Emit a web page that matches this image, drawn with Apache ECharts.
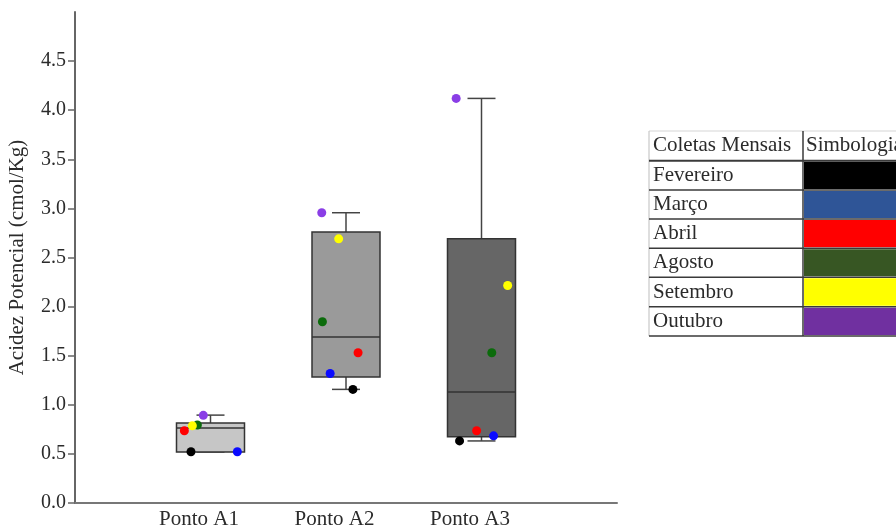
<!DOCTYPE html>
<html>
<head>
<meta charset="utf-8">
<script src="https://cdn.jsdelivr.net/npm/echarts@6/dist/echarts.min.js"></script>
<style>
	html,body{margin:0;padding:0;background:#fff;}
	#chart{width:896px;height:531px;}
</style>
</head>
<body>
<div id="chart"></div>
<script>
var categories=['Ponto A1','Ponto A2','Ponto A3'];
var yTicks=[0,0.5,1,1.5,2,2.5,3,3.5,4,4.5];
// min, Q1, mediana, Q3, max
var boxStats=[
	[0.52,0.52,0.765,0.815,0.895],
	[1.157,1.284,1.69,2.76,2.956],
	[0.632,0.674,1.13,2.69,4.12]
];
var boxColors=['#c6c6c6','#9a9a9a','#666666'];
var months=['Fevereiro','Março','Abril','Agosto','Setembro','Outubro'];
var dotColors=['#000000','#0a0aff','#ff0000','#0b6b0b','#ffff00','#8a3ee6'];
var swatchColors=['#000000','#2f5597','#ff0000','#375623','#ffff00','#7030a0'];
var fevereiro=[0.522,1.157,0.632];
var marco=[0.522,1.319,0.684];
var abril=[0.736,1.53,0.736];
var agosto=[0.794,1.846,1.53];
var setembro=[0.787,2.69,2.215];
var outubro=[0.893,2.956,4.12];
var monthValues=[fevereiro,marco,abril,agosto,setembro,outubro];
// deslocamento horizontal dos pontos dentro de cada caixa
var jitter=[
	[-0.144,0.051,-0.162],
	[0.198,-0.117,0.089],
	[-0.193,0.089,-0.036],
	[-0.097,-0.174,0.076],
	[-0.134,-0.054,0.193],
	[-0.053,-0.179,-0.187]
];

var font='"Liberation Serif", "Times New Roman", serif';
var txt='#2b2b2b';

var myChart=echarts.init(document.getElementById('chart'),null,{renderer:'canvas'});

/*box*/
var boxData=boxStats.map(function(s,i){
	return [i+1,s[0],s[1],s[2],s[3],s[4],i];
});
function renderBox(params,api){
	var x=api.value(0);
	var pMin=api.coord([x,api.value(1)]);
	var pQ1=api.coord([x,api.value(2)]);
	var pMed=api.coord([x,api.value(3)]);
	var pQ3=api.coord([x,api.value(4)]);
	var pMax=api.coord([x,api.value(5)]);
	var cx=pMed[0];
	var hw=34,cw=14;
	var wStyle={stroke:'#444',lineWidth:1.5};
	return {
		type:'group',
		children:[
			{type:'line',shape:{x1:cx,y1:pQ3[1],x2:cx,y2:pMax[1]},style:wStyle},
			{type:'line',shape:{x1:cx-cw,y1:pMax[1],x2:cx+cw,y2:pMax[1]},style:wStyle},
			{type:'line',shape:{x1:cx,y1:pQ1[1],x2:cx,y2:pMin[1]},style:wStyle},
			{type:'line',shape:{x1:cx-cw,y1:pMin[1],x2:cx+cw,y2:pMin[1]},style:wStyle},
			{type:'rect',shape:{x:cx-hw,y:pQ3[1],width:hw*2,height:pQ1[1]-pQ3[1]},
				style:{fill:boxColors[api.value(6)],stroke:'#333',lineWidth:1.5}},
			{type:'line',shape:{x1:cx-hw,y1:pMed[1],x2:cx+hw,y2:pMed[1]},style:{stroke:'#333',lineWidth:1.5}}
		]
	};
}

var series=[{
	type:'custom',
	renderItem:renderBox,
	data:boxData,
	encode:{x:0,y:[1,5]},
	z:2,
	silent:true
}];
months.forEach(function(m,k){
	series.push({
		name:m,
		type:'scatter',
		symbolSize:9,
		itemStyle:{color:dotColors[k],opacity:1},
		z:5,
		data:monthValues[k].map(function(v,i){
			return [i+1+jitter[k][i],v];
		})
	});
});

/*legend table*/
var tLeft=649,tDiv=803,tRight=900;
var rowLines=[131,160.7,190,219,248.3,277.3,306.7,336];
var graphic=[];
for(var r=0;r<months.length;r++){
	graphic.push({type:'rect',shape:{x:tDiv+1,y:rowLines[r+1]+1,width:tRight-tDiv,height:rowLines[r+2]-rowLines[r+1]-2},
		style:{fill:swatchColors[r]}});
}
graphic.push({type:'line',shape:{x1:tLeft,y1:rowLines[0],x2:tRight,y2:rowLines[0]},style:{stroke:'#d6d6d6',lineWidth:1.2}});
graphic.push({type:'line',shape:{x1:tLeft,y1:rowLines[0],x2:tLeft,y2:rowLines[7]},style:{stroke:'#c8c8c8',lineWidth:1.2}});
for(var r=1;r<rowLines.length;r++){
	graphic.push({type:'line',shape:{x1:tLeft,y1:rowLines[r],x2:tRight,y2:rowLines[r]},style:{stroke:'#3a3a3a',lineWidth:r==1?2:1.5}});
}
graphic.push({type:'line',shape:{x1:tDiv,y1:rowLines[0],x2:tDiv,y2:rowLines[7]},style:{stroke:'#3a3a3a',lineWidth:1.5}});
var tFont='21px '+font;
graphic.push({type:'text',x:653,y:(rowLines[0]+rowLines[1])/2,style:{text:'Coletas Mensais',font:tFont,fill:txt,verticalAlign:'middle'}});
graphic.push({type:'text',x:806,y:(rowLines[0]+rowLines[1])/2,style:{text:'Simbologia',font:tFont,fill:txt,verticalAlign:'middle'}});
for(var r=0;r<months.length;r++){
	graphic.push({type:'text',x:653,y:(rowLines[r+1]+rowLines[r+2])/2,style:{text:months[r],font:tFont,fill:txt,verticalAlign:'middle'}});
}

var option={
	animation:false,
	grid:{left:75,right:279,top:12,bottom:28,outerBoundsMode:'none'},
	xAxis:{
		type:'value',
		min:0,
		max:4,
		interval:1,
		axisLine:{lineStyle:{color:'#777',width:2}},
		axisTick:{show:false},
		splitLine:{show:false},
		axisLabel:{
			customValues:[1,2,3],
			formatter:function(v){return categories[Math.round(v)-1];},
			color:txt,
			fontFamily:font,
			fontSize:21,
			margin:6,
			padding:[0,23,0,0]
		}
	},
	yAxis:{
		type:'value',
		min:0,
		max:5,
		interval:0.5,
		name:'Acidez Potencial (cmol/Kg)',
		nameLocation:'middle',
		nameGap:47,
		nameTextStyle:{color:txt,fontFamily:font,fontSize:21},
		axisLine:{show:true,lineStyle:{color:'#666',width:2}},
		axisTick:{show:true,customValues:yTicks,length:7,lineStyle:{color:'#666',width:1.5}},
		splitLine:{show:false},
		axisLabel:{
			customValues:yTicks,
			formatter:function(v){return v.toFixed(1);},
			color:txt,
			fontFamily:font,
			fontSize:20,
			margin:9
		}
	},
	graphic:graphic,
	series:series
};
myChart.setOption(option);
</script>
</body>
</html>
